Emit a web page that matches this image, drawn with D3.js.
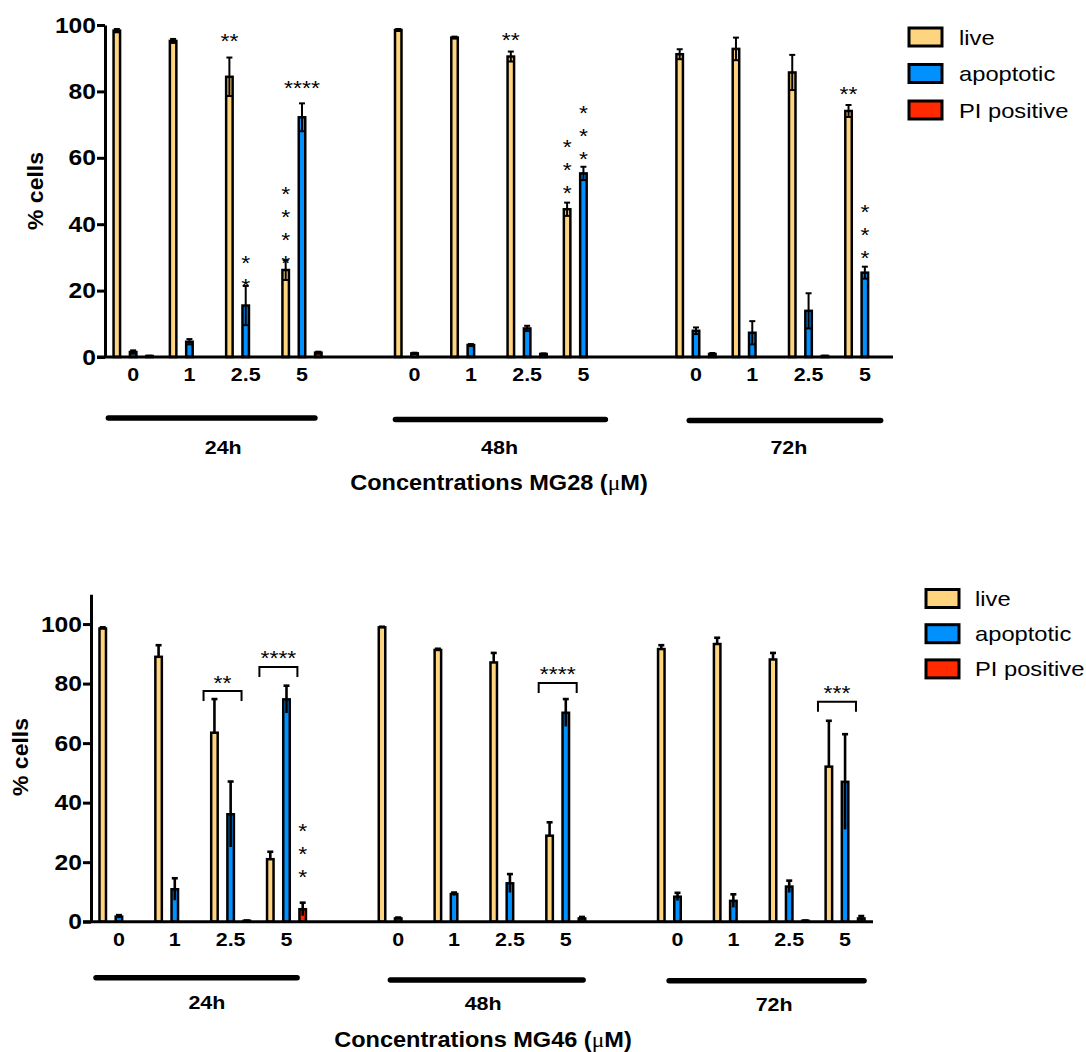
<!DOCTYPE html>
<html><head><meta charset="utf-8">
<script src="https://cdn.jsdelivr.net/npm/d3@7"></script>
<style>body{margin:0;background:#fff} svg{display:block}</style>
</head><body>
<svg id="chart" width="1086" height="1052"></svg>
<script>
// ---------------- DATA ----------------
const concentrations = ["0", "1", "2.5", "5"];
const timepoints = ["24h", "48h", "72h"];
const seriesKeys = ["live", "apoptotic", "PI positive"];
const seriesColors = ["#FFD47F", "#0091FF", "#FF2A00"];
const yTicks = [0, 20, 40, 60, 80, 100];

// MG28 (rows = 24h, 48h, 72h ; columns = 0, 1, 2.5, 5 µM)
const live28     = [[98.3, 95.2, 84.4, 26.2], [98.5, 96.2, 90.5, 44.5], [91.2, 92.8, 85.7, 74.1]];
const live28Err  = [[0.5, 0.6, 5.8, 3.0],     [0.3, 0.3, 1.5, 2.0],     [1.5, 3.4, 5.3, 1.8]];
const apop28     = [[1.5, 4.6, 15.5, 72.2],   [1.1, 3.6, 8.6, 55.3],    [7.9, 7.3, 13.9, 25.4]];
const apop28Err  = [[0.5, 0.8, 5.9, 4.2],     [0.2, 0.3, 0.8, 2.0],     [1.0, 3.5, 5.3, 1.8]];
const pi28       = [[0.3, 0, 0, 1.3],         [0, 0, 0.9, 0],           [0.9, 0, 0.3, 0]];
const pi28Err    = [[0.1, 0, 0, 0.3],         [0, 0, 0.2, 0],           [0.3, 0, 0.1, 0]];

// MG46
const live46     = [[98.5, 89.0, 63.5, 21.0], [98.9, 91.3, 87.1, 28.9], [91.6, 93.3, 88.1, 52.1]];
const live46Err  = [[0.4, 3.9, 11.3, 2.5],    [0.2, 0.4, 3.2, 4.5],     [1.3, 2.1, 2.2, 15.4]];
const apop46     = [[1.7, 10.9, 36.1, 74.7],  [1.1, 9.3, 12.9, 70.2],   [8.4, 7.0, 11.8, 47.0]];
const apop46Err  = [[0.5, 3.7, 11.0, 4.6],    [0.3, 0.5, 3.1, 4.6],     [1.3, 2.2, 2.0, 16.0]];
const pi46       = [[0, 0, 0.3, 4.2],         [0, 0, 0, 1.1],           [0, 0, 0.3, 1.1]];
const pi46Err    = [[0, 0, 0.1, 2.2],         [0, 0, 0, 0.5],           [0, 0, 0.1, 0.8]];

// significance marks (level = value on the y axis where the mark sits)
const marks28 = [
  {time: "24h", conc: "2.5", series: "live",      text: "**",   level: 96.4, stacked: false},
  {time: "24h", conc: "2.5", series: "apoptotic", text: "**",   level: 22.6, stacked: true},
  {time: "24h", conc: "5",   series: "apoptotic", text: "****", level: 82.5, stacked: false},
  {time: "24h", conc: "5",   series: "live",      text: "****", level: 29.8, stacked: true},
  {time: "48h", conc: "2.5", series: "live",      text: "**",   level: 96.7, stacked: false},
  {time: "48h", conc: "5",   series: "live",      text: "***",  level: 50.9, stacked: true},
  {time: "48h", conc: "5",   series: "apoptotic", text: "***",  level: 61.1, stacked: true},
  {time: "72h", conc: "5",   series: "live",      text: "**",   level: 80.7, stacked: false},
  {time: "72h", conc: "5",   series: "apoptotic", text: "***",  level: 31.3, stacked: true}
];
const marks46 = [
  {time: "24h", conc: "5", series: "PI positive", text: "***", level: 16.4, stacked: true}
];
const brackets46 = [
  {time: "24h", conc: "2.5", text: "**",   level: 77.5},
  {time: "24h", conc: "5",   text: "****", level: 85.6},
  {time: "48h", conc: "5",   text: "****", level: 80.2},
  {time: "72h", conc: "5",   text: "***",  level: 73.9}
];

// ---------------- LAYOUT ----------------
const FONT = "'Liberation Sans', Arial, Helvetica, sans-serif";
const charts = [
  {
    compound: "MG28",
    live: live28, liveErr: live28Err, apop: apop28, apopErr: apop28Err, pi: pi28, piErr: pi28Err,
    marks: marks28, brackets: [],
    yMax: 100, x0: 105, x1: 893, yTop: 25, yBase: 357,
    lowerAll: true, lowerCap: true, errWidth: 2,
    groupLine: [[-0.44, 0.23, 61], [-0.34, 0.39, 62.5], [-0.12, 0.28, 63.5]],
    groupLabel: [[0.10, 97], [0.01, 97], [0.15, 97]],
    titleDy: 133, titleX: 499,
    yLabel: [43, 191],
    legend: {x: 909, y: 37, step: 36.5, textX: 959}
  },
  {
    compound: "MG46",
    live: live46, liveErr: live46Err, apop: apop46, apopErr: apop46Err, pi: pi46, piErr: pi46Err,
    marks: marks46, brackets: brackets46,
    yMax: 110, x0: 91, x1: 873, yTop: 594.3, yBase: 921.7,
    lowerAll: false, lowerCap: false, errWidth: 2.6,
    groupLine: [[-0.41, 0.19, 56], [-0.14, 0.31, 58.3], [-0.15, 0.34, 59]],
    groupLabel: [[0.075, 87.5], [0.02, 88.5], [0.23, 89.3]],
    titleDy: 125.5, titleX: 483,
    yLabel: [28, 757],
    legend: {x: 926, y: 598.5, step: 35.2, textX: 975}
  }
];

const svg = d3.select("#chart");

function sText(g, x, y, str, o) {
  const t = g.append("text")
    .attr("transform", `translate(${x},${y})` + (o.rotate ? ` rotate(${o.rotate})` : "") + ` scale(${o.sx || 1},1)`)
    .attr("font-family", FONT)
    .attr("font-size", o.size)
    .attr("font-weight", o.weight || "normal")
    .attr("text-anchor", o.anchor || "start")
    .attr("fill", "#000");
  if (str !== null) t.text(str);
  return t;
}

charts.forEach(c => {
  const g = svg.append("g");
  // slot keys with one gap between time groups
  const slots = [];
  timepoints.forEach((t, i) => {
    concentrations.forEach(cc => slots.push(t + "|" + cc));
    if (i < timepoints.length - 1) slots.push("gap" + i);
  });
  const x = d3.scaleBand().domain(slots).range([c.x0, c.x1]).padding(0);
  const bw = x.bandwidth();
  const cx = k => x(k) + bw / 2;
  const inner = d3.scalePoint().domain(seriesKeys).range([-0.29 * bw, 0.29 * bw]);
  const y = d3.scaleLinear().domain([0, c.yMax]).range([c.yBase, c.yTop]);

  // flatten records
  const vals = [c.live, c.apop, c.pi], errs = [c.liveErr, c.apopErr, c.piErr];
  const recs = [];
  timepoints.forEach((t, ti) => concentrations.forEach((cc, ci) => seriesKeys.forEach((s, si) => {
    recs.push({key: t + "|" + cc, series: s, si, v: vals[si][ti][ci], e: errs[si][ti][ci]});
  })));
  const barW = 6.5;
  const bars = recs.filter(d => d.v > 0);

  g.append("g").selectAll("rect").data(bars).join("rect")
    .attr("x", d => cx(d.key) + inner(d.series) - barW / 2)
    .attr("width", barW)
    .attr("y", d => y(d.v))
    .attr("height", d => Math.max(0.01, y(0) - y(d.v)))
    .attr("fill", d => seriesColors[d.si])
    .attr("stroke", "#000")
    .attr("stroke-width", 2.5);

  // error bars
  const eg = g.append("g").attr("stroke", "#000").attr("stroke-width", c.errWidth).attr("fill", "none");
  bars.filter(d => d.e > 0).forEach(d => {
    const bx = cx(d.key) + inner(d.series);
    const capW = 3;
    eg.append("line").attr("x1", bx).attr("x2", bx).attr("y1", y(d.v)).attr("y2", y(d.v + d.e));
    eg.append("line").attr("x1", bx - capW).attr("x2", bx + capW).attr("y1", y(d.v + d.e)).attr("y2", y(d.v + d.e));
    if (c.lowerAll || d.series !== "live") {
      const lo = Math.max(0, d.v - d.e);
      eg.append("line").attr("x1", bx).attr("x2", bx).attr("y1", y(d.v)).attr("y2", y(lo));
      if (c.lowerCap) eg.append("line").attr("x1", bx - capW).attr("x2", bx + capW).attr("y1", y(lo)).attr("y2", y(lo));
    }
  });

  // y axis
  const ya = g.append("g").attr("transform", `translate(${c.x0},0)`)
    .call(d3.axisLeft(y).tickValues(yTicks).tickSize(8).tickSizeOuter(0).tickPadding(3));
  ya.select(".domain").attr("stroke", "#000").attr("stroke-width", 3);
  ya.selectAll(".tick line").attr("stroke", "#000").attr("stroke-width", 3);
  const ySx = 1.12;
  ya.selectAll(".tick text")
    .attr("font-family", FONT).attr("font-size", 22).attr("font-weight", "bold").attr("fill", "#000")
    .attr("x", -9 / ySx).attr("transform", `scale(${ySx},1)`);

  // x axis
  const xa = g.append("g").attr("transform", `translate(0,${c.yBase})`)
    .call(d3.axisBottom(x).tickValues(slots.filter(s => !s.startsWith("gap")))
      .tickFormat(k => k.split("|")[1]).tickSize(0).tickSizeOuter(0).tickPadding(11));
  xa.select(".domain").attr("stroke", "#000").attr("stroke-width", 3)
    .attr("d", `M${c.x0 - 8},0H${c.x1}`);
  xa.selectAll(".tick text")
    .attr("font-family", FONT).attr("font-size", 19).attr("font-weight", "bold").attr("fill", "#000")
    .attr("transform", "scale(1.13,1)");

  // time-point group lines and labels
  timepoints.forEach((t, ti) => {
    const first = cx(t + "|" + concentrations[0]);
    const last = cx(t + "|" + concentrations[concentrations.length - 1]);
    const gl = c.groupLine[ti];
    g.append("line")
      .attr("x1", first + gl[0] * bw).attr("x2", last + gl[1] * bw)
      .attr("y1", c.yBase + gl[2]).attr("y2", c.yBase + gl[2])
      .attr("stroke", "#000").attr("stroke-width", 5.5).attr("stroke-linecap", "round");
    const lb = c.groupLabel[ti];
    sText(g, (first + last) / 2 + lb[0] * bw, c.yBase + lb[1], t, {size: 19, weight: "bold", sx: 1.13, anchor: "middle"});
  });

  // x title
  const tt = sText(g, c.titleX, c.yBase + c.titleDy, null, {size: 22, weight: "bold", sx: 1.07, anchor: "middle"});
  tt.append("tspan").text("Concentrations " + c.compound + " (");
  tt.append("tspan").attr("font-weight", "normal").attr("font-family", "'Liberation Serif', 'DejaVu Serif', serif").text("μ");
  tt.append("tspan").text("M)");

  // y title
  sText(g, c.yLabel[0], c.yLabel[1], "% cells", {size: 21.5, weight: "bold", sx: 1.07, anchor: "middle", rotate: -90});

  // significance marks
  const starSize = 20, starSx = 1.15, stackStep = 23;
  const starBase = cy => cy + 0.575 * starSize;
  c.marks.forEach(m => {
    const mx = cx(m.time + "|" + m.conc) + inner(m.series);
    if (m.stacked) {
      for (let i = 0; i < m.text.length; i++) {
        sText(g, mx, starBase(y(m.level) - i * stackStep), "*", {size: starSize, sx: starSx, anchor: "middle"});
      }
    } else {
      sText(g, mx, starBase(y(m.level)), m.text, {size: starSize, sx: starSx, anchor: "middle"});
    }
  });
  c.brackets.forEach(b => {
    const k = b.time + "|" + b.conc;
    const mid = cx(k) + (inner("live") + inner("apoptotic")) / 2;
    const by = y(b.level), half = 19, leg = 10;
    g.append("path")
      .attr("d", `M${mid - half},${by + leg}V${by}H${mid + half}V${by + leg}`)
      .attr("fill", "none").attr("stroke", "#000").attr("stroke-width", 2);
    sText(g, mid, starBase(by - 13), b.text, {size: starSize, sx: starSx, anchor: "middle"});
  });

  // legend
  const L = c.legend;
  seriesKeys.forEach((s, i) => {
    const ly = L.y + i * L.step;
    g.append("rect").attr("x", L.x).attr("y", ly - 9).attr("width", 33).attr("height", 18)
      .attr("fill", seriesColors[i]).attr("stroke", "#000").attr("stroke-width", 3);
    sText(g, L.textX, ly + 7.5, s, {size: 21, sx: 1.13});
  });
});
</script>
</body></html>
